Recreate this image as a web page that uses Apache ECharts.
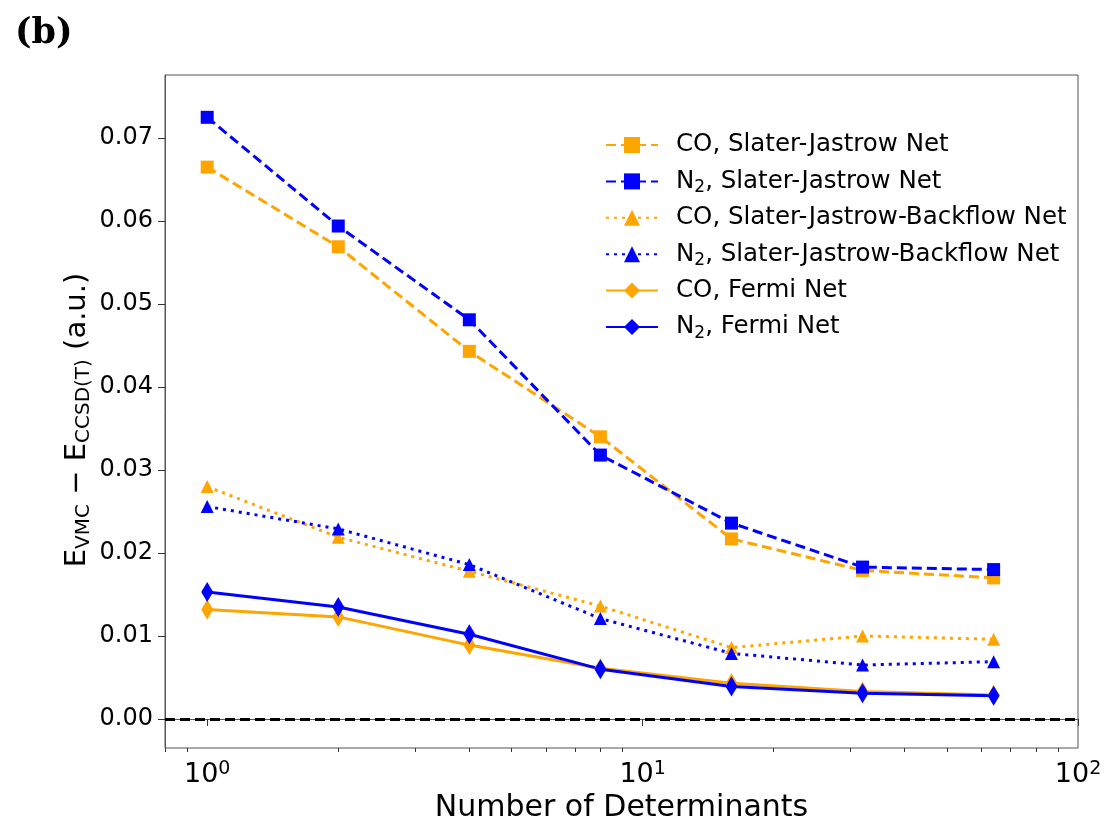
<!DOCTYPE html>
<html>
<head>
<meta charset="utf-8">
<script src="https://cdn.jsdelivr.net/npm/echarts@6/dist/echarts.min.js"></script>
<style>html,body{margin:0;padding:0;background:#fff}#c{width:1110px;height:824px}</style>
</head>
<body>
<div id="c"></div>
<script>
const determinants = [1, 2, 4, 8, 16, 32, 64];
const coSJ   = [0.0665, 0.0569, 0.0443, 0.0340, 0.0217, 0.0179, 0.0170];
const n2SJ   = [0.0725, 0.0594, 0.0481, 0.0318, 0.0236, 0.0183, 0.0180];
const coSJB  = [0.0280, 0.0219, 0.0178, 0.0136, 0.0086, 0.0100, 0.0096];
const n2SJB  = [0.0256, 0.0229, 0.0186, 0.0121, 0.0079, 0.0065, 0.0069];
const coFN   = [0.0132, 0.0123, 0.0089, 0.0061, 0.0043, 0.0033, 0.0029];
const n2FN   = [0.0153, 0.0135, 0.0102, 0.0060, 0.0039, 0.0031, 0.0028];
const seriesNames = ['CO, Slater-Jastrow Net', 'N2, Slater-Jastrow Net',
  'CO, Slater-Jastrow-Backflow Net', 'N2, Slater-Jastrow-Backflow Net',
  'CO, Fermi Net', 'N2, Fermi Net'];
const xMajorTicks = [1, 10, 100];
const xMinorTicks = [0.8, 0.9, 2, 3, 4, 5, 6, 7, 8, 9, 20, 30, 40, 50, 60, 70, 80, 90];
const yTicks = [0, 0.01, 0.02, 0.03, 0.04, 0.05, 0.06, 0.07];

const ORANGE = '#FFA500', BLUE = '#0000FF';
const pair = arr => determinants.map((d, i) => [d, arr[i]]);

function mk(name, data, color, dash, symbol, size) {
  return {
    name, type: 'line', data: pair(data), xAxisIndex: 0, yAxisIndex: 0,
    symbol, symbolSize: size, showSymbol: true,
    lineStyle: { color, width: 3, type: dash },
    itemStyle: { color, borderColor: color, borderWidth: 0 },
    emphasis: { disabled: true }
  };
}

const series = [
  mk(seriesNames[0], coSJ, ORANGE, [10, 5], 'rect', 13),
  mk(seriesNames[1], n2SJ, BLUE, [10, 5], 'rect', 13),
  mk(seriesNames[2], coSJB, ORANGE, [3, 5], 'triangle', 13),
  mk(seriesNames[3], n2SJB, BLUE, [3, 5], 'triangle', 13),
  mk(seriesNames[4], coFN, ORANGE, 'solid', 'diamond', [12, 20]),
  mk(seriesNames[5], n2FN, BLUE, 'solid', 'diamond', [12, 20])
];
series[0].markLine = {
  silent: true, symbol: 'none', label: { show: false },
  lineStyle: { color: '#000', width: 3, type: [10, 5] },
  data: [{ yAxis: 0 }]
};

const chart = echarts.init(document.getElementById('c'), null, { renderer: 'canvas' });
chart.setOption({
  animation: false,
  backgroundColor: '#fff',
  grid: {
    left: 165, right: 32, top: 75, bottom: 76, containLabel: false, outerBoundsMode: 'none',
    show: true, borderColor: '#555', borderWidth: 1
  },
  xAxis: [{
    type: 'log', min: 0.8, max: 100, logBase: 10,
    position: 'bottom',
    name: 'Number of Determinants', nameLocation: 'middle', nameGap: 45,
    nameTextStyle: { fontFamily: 'DejaVu Sans', fontSize: 30, color: '#000' },
    axisLine: { show: true, lineStyle: { color: '#555', width: 1 } },
    axisTick: { show: true, customValues: xMajorTicks, length: 7, lineStyle: { color: '#333', width: 1 } },
    axisLabel: {
      customValues: xMajorTicks, margin: 12, color: '#000',
      fontFamily: 'DejaVu Sans', fontSize: 27,
      formatter: v => '{b|10}{s|' + Math.round(Math.log10(v)) + '}',
      rich: {
        b: { fontFamily: 'DejaVu Sans', fontSize: 27, lineHeight: 30, color: '#000' },
        s: { fontFamily: 'DejaVu Sans', fontSize: 19, lineHeight: 20, verticalAlign: 'top', color: '#000' }
      }
    },
    splitLine: { show: false }
  }, {
    type: 'log', min: 0.8, max: 100, logBase: 10,
    position: 'bottom',
    axisLine: { show: false },
    axisTick: { show: true, customValues: xMinorTicks, length: 4, lineStyle: { color: '#333', width: 1 } },
    axisLabel: { show: false },
    splitLine: { show: false }
  }],
  yAxis: {
    type: 'value', min: -0.0035, max: 0.0776,
    axisLine: { show: true, lineStyle: { color: '#555', width: 1 } },
    axisTick: { show: true, customValues: yTicks, length: 7, lineStyle: { color: '#333', width: 1 } },
    axisLabel: {
      customValues: yTicks, margin: 12, color: '#000',
      fontFamily: 'DejaVu Sans', fontSize: 24,
      formatter: v => v.toFixed(2)
    },
    splitLine: { show: false }
  },
  legend: {
    left: 600, top: 125, orient: 'vertical',
    itemWidth: 52, itemHeight: 20, itemGap: 6.4,
    data: seriesNames,
    formatter: n => n.replace(/^N2/, 'N{sub|2}'),
    textStyle: {
      fontFamily: 'DejaVu Sans', fontSize: 24.5, lineHeight: 30, color: '#000', padding: [0, 0, 0, 13],
      rich: {
        sub: { fontFamily: 'DejaVu Sans', fontSize: 17, lineHeight: 14, verticalAlign: 'bottom', color: '#000' }
      }
    },
    selectedMode: false
  },
  graphic: [{
    type: 'text', left: 15, top: 16,
    style: { text: '(b)', font: 'bold 35px "DejaVu Serif"', fill: '#000' }
  }, {
    type: 'text', x: 77, y: 420, rotation: Math.PI / 2,
    style: {
      text: 'E{sub|VMC} − E{sub|CCSD(T)} (a.u.)',
      fontFamily: 'DejaVu Sans', fontSize: 29, lineHeight: 34, fill: '#000',
      align: 'center', verticalAlign: 'middle',
      rich: {
        sub: { fontFamily: 'DejaVu Sans', fontSize: 20, lineHeight: 16, verticalAlign: 'bottom', fill: '#000' }
      }
    }
  }],
  series
});
</script>
</body>
</html>
